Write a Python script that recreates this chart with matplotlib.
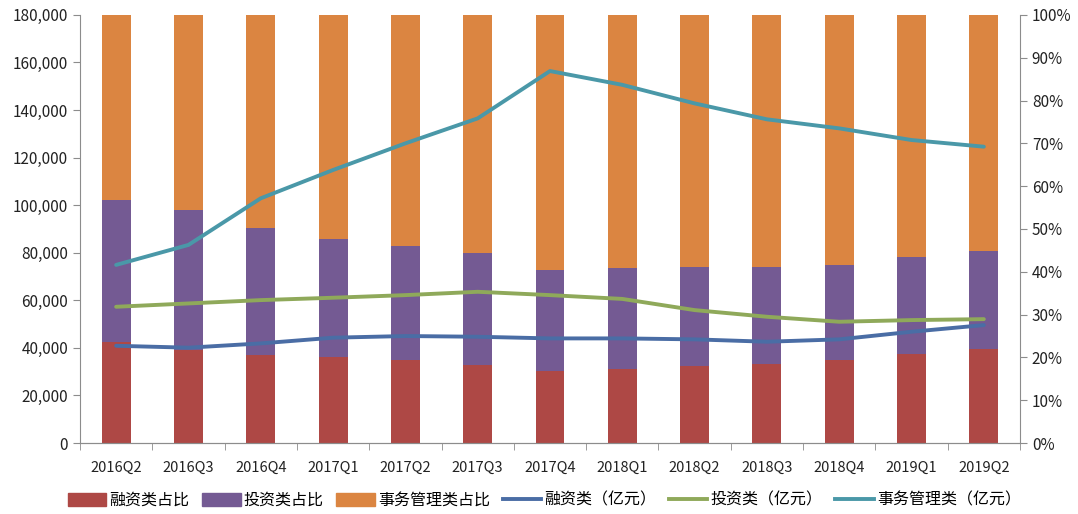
import matplotlib
matplotlib.use("Agg")
from matplotlib import pyplot as plt
from matplotlib.patches import Patch
from matplotlib.lines import Line2D
from matplotlib.ticker import FuncFormatter, FixedLocator
import numpy as np

plt.rcParams['font.family'] = ['Noto Sans CJK SC', 'DejaVu Sans']

quarters = ["2016Q2", "2016Q3", "2016Q4", "2017Q1", "2017Q2", "2017Q3", "2017Q4",
            "2018Q1", "2018Q2", "2018Q3", "2018Q4", "2019Q1", "2019Q2"]

# 占比 (%)
rongzi_pct = [23.5, 21.7, 20.6, 20.0, 19.4, 18.2, 16.9, 17.4, 18.0, 18.5, 19.4, 20.7, 21.9]
touzi_pct = [33.3, 32.7, 29.6, 27.7, 26.6, 26.1, 23.6, 23.4, 23.2, 22.7, 22.2, 22.8, 23.0]
shiwu_pct = [100 - a - b for a, b in zip(rongzi_pct, touzi_pct)]

# 规模 (亿元)
rongzi_amt = [40900, 40100, 41900, 44300, 45000, 44700, 44000, 44000, 43600, 42600, 43600, 46800, 49600]
touzi_amt = [57300, 58700, 60100, 61100, 62200, 63600, 62200, 60600, 55900, 53100, 51000, 51700, 52100]
shiwu_amt = [74900, 83300, 102900, 114800, 126000, 136500, 156400, 150600, 142800, 136100, 132300, 127400, 124600]

c_red = "#AE4845"
c_purple = "#745A93"
c_orange = "#DB8541"
c_blue = "#4A6DA5"
c_green = "#8FA95A"
c_teal = "#4A98A8"
c_axis = "#8C8C8C"

fig = plt.figure(figsize=(10.78, 5.14), dpi=100)
ax = fig.add_axes([0.0742, 0.138, 0.8720, 0.833])
ax2 = ax.twinx()

x = np.arange(len(quarters))
w = 0.4

# 柱子画在右轴（百分比），线画在左轴
ax2.bar(x, rongzi_pct, w, color=c_red, zorder=1)
ax2.bar(x, touzi_pct, w, bottom=rongzi_pct, color=c_purple, zorder=1)
ax2.bar(x, shiwu_pct, w, bottom=np.array(rongzi_pct) + np.array(touzi_pct), color=c_orange, zorder=1)
ax2.set_ylim(0, 100)
ax2.yaxis.set_major_locator(FixedLocator(np.arange(0, 101, 10)))
ax2.yaxis.set_major_formatter(FuncFormatter(lambda v, p: f"{int(v)}%"))

# 线在上层
ax.set_zorder(ax2.get_zorder() + 1)
ax.patch.set_visible(False)
ax.plot(x, rongzi_amt, color=c_blue, lw=2.8, solid_capstyle='round')
ax.plot(x, touzi_amt, color=c_green, lw=2.8, solid_capstyle='round')
ax.plot(x, shiwu_amt, color=c_teal, lw=2.8, solid_capstyle='round')

ax.set_ylim(0, 180000)
ax.set_xlim(-0.5, len(quarters) - 0.5)
ax.yaxis.set_major_locator(FixedLocator(np.arange(0, 180001, 20000)))
ax.yaxis.set_major_formatter(FuncFormatter(lambda v, p: f"{int(v):,}"))

ax.set_xticks(x)
ax.set_xticklabels(quarters)
ax.set_xticks(np.arange(-0.5, len(quarters), 1), minor=True)
ax.tick_params(axis='x', which='major', length=0, pad=13, labelsize=10.5, colors='#222222')
ax.tick_params(axis='x', which='minor', length=5, color=c_axis, direction='out')
ax.tick_params(axis='y', length=5, color=c_axis, labelsize=11, colors='#222222')
ax.tick_params(axis='y', colors=c_axis, labelcolor='#222222')
ax2.tick_params(axis='y', length=5, color=c_axis, labelsize=11, labelcolor='#222222')

for a in (ax, ax2):
    a.spines['top'].set_visible(False)
    for s in ('left', 'right', 'bottom'):
        a.spines[s].set_color(c_axis)
ax.spines['right'].set_visible(False)
ax2.spines['left'].set_visible(False)

handles = [
    Patch(color=c_red, label="融资类占比"),
    Patch(color=c_purple, label="投资类占比"),
    Patch(color=c_orange, label="事务管理类占比"),
    Line2D([], [], color=c_blue, lw=2.8, label="融资类（亿元）"),
    Line2D([], [], color=c_green, lw=2.8, label="投资类（亿元）"),
    Line2D([], [], color=c_teal, lw=2.8, label="事务管理类（亿元）"),
]
fig.legend(handles=handles, loc='lower center', bbox_to_anchor=(0.505, -0.018), ncol=6,
           frameon=False, fontsize=11.5, handlelength=2.4, handleheight=0.9,
           handletextpad=0.2, columnspacing=0.8)

fig.savefig("out.png", dpi=100)
